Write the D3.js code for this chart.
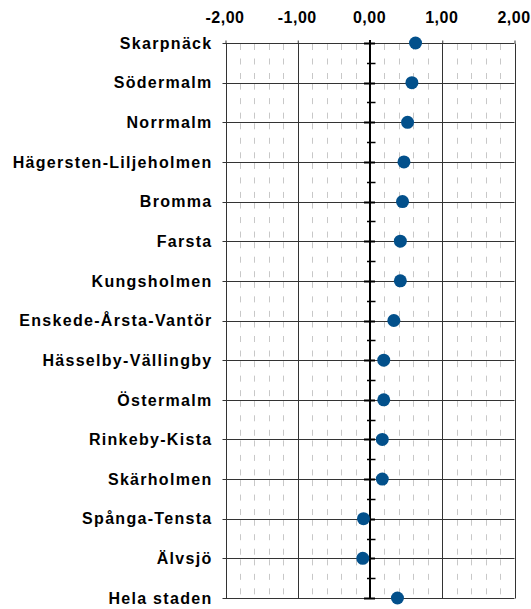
<!DOCTYPE html>
<html>
<head>
<meta charset="utf-8">
<script src="https://cdn.jsdelivr.net/npm/d3@7"></script>
<style>
  body { margin: 0; background: #fff; }
  text { font-family: Arial, "Liberation Sans", sans-serif; font-weight: bold; }
</style>
</head>
<body>
<svg id="drawing_region"></svg>
<script>
const categories = ["Skarpnäck", "Södermalm", "Norrmalm", "Hägersten-Liljeholmen", "Bromma",
    "Farsta", "Kungsholmen", "Enskede-Årsta-Vantör", "Hässelby-Vällingby", "Östermalm",
    "Rinkeby-Kista", "Skärholmen", "Spånga-Tensta", "Älvsjö", "Hela staden"];
const values = [0.63, 0.58, 0.52, 0.47, 0.45, 0.42, 0.42, 0.33, 0.19, 0.19, 0.17, 0.17, -0.09, -0.10, 0.38];
const majorTicks = [-2, -1, 0, 1, 2];

const config = {
    width: 531,
    height: 609,
    left: 225.5,
    right: 514.5,
    top: 43,
    bottom: 598
};

const svg = d3.select('#drawing_region')
    .attr('width', config.width)
    .attr('height', config.height);

const xscale = d3.scaleLinear()
    .domain([-2, 2])
    .range([config.left, config.right]);

const yscale = d3.scalePoint()
    .domain(categories)
    .range([config.top, config.bottom]);

const step = yscale.step();
const comma = d => d3.format(".2f")(d).replace(".", ",").replace("\u2212", "-");

// minor dashed grid, one segment per band
const minor = xscale.ticks(20).filter(t => Math.abs(t - Math.round(t)) > 1e-6);
const bands = categories.slice(0, -1);
const grid = svg.append('g');
minor.forEach(t => {
    grid.selectAll(null)
        .data(bands)
        .enter()
        .append('line')
        .attr('x1', Math.round(xscale(t)) + 0.5)
        .attr('x2', Math.round(xscale(t)) + 0.5)
        .attr('y1', d => yscale(d) + 1)
        .attr('y2', d => yscale(d) + step - 1)
        .attr('stroke', '#c8c8c8')
        .attr('stroke-width', 1)
        .attr('stroke-dasharray', '6,8.5');
});

// horizontal lines at each category
svg.append('g').selectAll('line')
    .data(categories)
    .enter()
    .append('line')
    .attr('x1', config.left - 3)
    .attr('x2', config.right)
    .attr('y1', d => Math.round(yscale(d)) + 0.5)
    .attr('y2', d => Math.round(yscale(d)) + 0.5)
    .attr('stroke', '#333')
    .attr('stroke-width', 1);

// major vertical lines
svg.append('g').selectAll('line')
    .data(majorTicks.filter(t => t !== 0))
    .enter()
    .append('line')
    .attr('x1', d => Math.round(xscale(d)) + 0.5)
    .attr('x2', d => Math.round(xscale(d)) + 0.5)
    .attr('y1', config.top + 0.5)
    .attr('y2', config.bottom + 0.5)
    .attr('stroke', '#333')
    .attr('stroke-width', 1);

// top axis with labels
const xaxis = d3.axisTop(xscale)
    .tickValues(majorTicks)
    .tickSize(3)
    .tickPadding(18)
    .tickFormat(comma);

const xaxis_group = svg.append('g')
    .attr('transform', `translate(0, ${config.top + 0.5})`)
    .call(xaxis);
xaxis_group.select('.domain').remove();
xaxis_group.selectAll('.tick line').attr('stroke', '#333');
xaxis_group.selectAll('text')
    .attr('fill', 'black')
    .attr('dx', -1)
    .attr('font-size', '16px')
    .attr('letter-spacing', '0.5px')
    .attr('font-family', 'Arial, "Liberation Sans", sans-serif')
    .attr('font-weight', 'bold');

// zero axis with ticks
const x0 = xscale(0);
const zero = svg.append('g');
zero.append('line')
    .attr('x1', x0).attr('x2', x0)
    .attr('y1', config.top - 3)
    .attr('y2', config.bottom + 0.5)
    .attr('stroke', 'black')
    .attr('stroke-width', 2);
zero.selectAll('.major')
    .data(categories)
    .enter()
    .append('line')
    .attr('x1', x0 - 6).attr('x2', x0 + 5)
    .attr('y1', d => Math.round(yscale(d)) + 0.5)
    .attr('y2', d => Math.round(yscale(d)) + 0.5)
    .attr('stroke', 'black')
    .attr('stroke-width', 2);
zero.selectAll('.minor')
    .data(bands)
    .enter()
    .append('line')
    .attr('x1', x0 - 3).attr('x2', x0 + 5.5)
    .attr('y1', d => Math.round(yscale(d) + step / 2) + 0.5)
    .attr('y2', d => Math.round(yscale(d) + step / 2) + 0.5)
    .attr('stroke', 'black')
    .attr('stroke-width', 1.5);

// category labels
svg.append('g').selectAll('text')
    .data(categories)
    .enter()
    .append('text')
    .attr('x', 212.5)
    .attr('y', d => yscale(d))
    .attr('dy', '0.36em')
    .attr('text-anchor', 'end')
    .attr('font-size', '16px')
    .attr('letter-spacing', '1.3px')
    .attr('fill', 'black')
    .text(d => d);

// dots
svg.append('g').selectAll('circle')
    .data(values)
    .enter()
    .append('circle')
    .attr('cx', d => xscale(d))
    .attr('cy', (d, i) => yscale(categories[i]))
    .attr('r', 6.5)
    .attr('fill', '#02508b');
</script>
</body>
</html>
